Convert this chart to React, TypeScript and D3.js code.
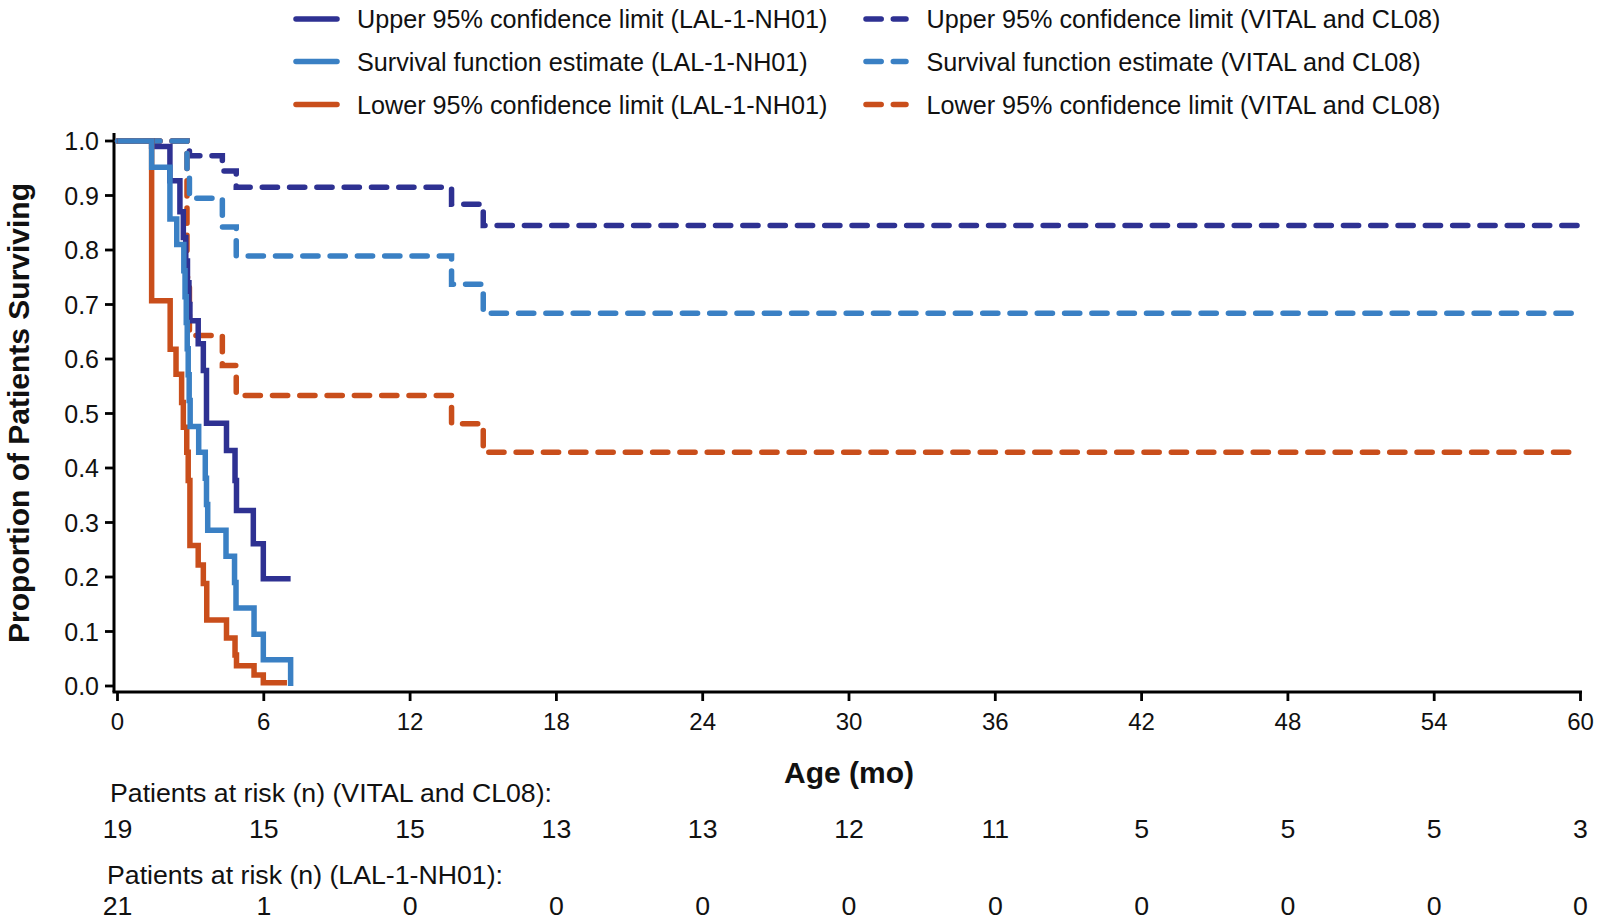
import React from 'react';
import * as d3 from 'd3';

// ---- data ----
const xTicks = [0, 6, 12, 18, 24, 30, 36, 42, 48, 54, 60];
const yTicks = [0, 0.1, 0.2, 0.3, 0.4, 0.5, 0.6, 0.7, 0.8, 0.9, 1.0];
const riskVital = [19, 15, 15, 13, 13, 12, 11, 5, 5, 5, 3];
const riskLal = [21, 1, 0, 0, 0, 0, 0, 0, 0, 0, 0];

// LAL-1-NH01 (solid)
const lalUpperTimes = [0, 1.4, 2.15, 2.56, 2.7, 2.8, 2.87, 2.93, 2.97, 3.31, 3.52, 3.65, 4.47, 4.82, 4.88, 5.57, 5.98, 7.1];
const lalUpperValues = [1.0, 0.99, 0.927, 0.87, 0.823, 0.78, 0.74, 0.70, 0.67, 0.628, 0.579, 0.482, 0.432, 0.377, 0.322, 0.261, 0.197, 0.197];
const lalSurvTimes = [0, 1.4, 2.15, 2.43, 2.72, 2.77, 2.82, 2.86, 2.9, 2.94, 2.98, 3.33, 3.6, 3.65, 3.7, 4.45, 4.8, 4.86, 5.6, 5.98, 7.1];
const lalSurvValues = [1.0, 0.952, 0.857, 0.81, 0.762, 0.714, 0.667, 0.619, 0.571, 0.524, 0.476, 0.429, 0.381, 0.333, 0.286, 0.238, 0.19, 0.143, 0.095, 0.048, 0];
const lalLowerTimes = [0, 1.4, 2.16, 2.4, 2.63, 2.7, 2.84, 2.9, 2.97, 3.31, 3.52, 3.66, 4.47, 4.82, 4.88, 5.6, 5.98, 6.95];
const lalLowerValues = [1.0, 0.707, 0.618, 0.572, 0.52, 0.475, 0.429, 0.377, 0.258, 0.222, 0.188, 0.121, 0.088, 0.057, 0.037, 0.02, 0.006, 0.006];

// VITAL and CL08 (dashed)
const vitUpperTimes = [0, 2.85, 2.95, 4.3, 4.87, 13.7, 15.0, 60];
const vitUpperValues = [1.0, 0.993, 0.973, 0.945, 0.915, 0.884, 0.845, 0.845];
const vitSurvTimes = [0, 2.85, 2.95, 4.3, 4.87, 13.7, 15.0, 60];
const vitSurvValues = [1.0, 0.947, 0.895, 0.842, 0.789, 0.737, 0.684, 0.684];
const vitLowerTimes = [0, 2.85, 2.95, 4.3, 4.87, 13.7, 15.0, 60];
const vitLowerValues = [1.0, 0.75, 0.643, 0.588, 0.533, 0.481, 0.429, 0.429];

const legendLeft = [
  'Upper 95% confidence limit (LAL-1-NH01)',
  'Survival function estimate (LAL-1-NH01)',
  'Lower 95% confidence limit (LAL-1-NH01)',
];
const legendRight = [
  'Upper 95% confidence limit (VITAL and CL08)',
  'Survival function estimate (VITAL and CL08)',
  'Lower 95% confidence limit (VITAL and CL08)',
];

const NAVY = '#2E3192';
const BLUE = '#3A80C4';
const ORANGE = '#C94E1B';
const FONT = '"Liberation Sans", Arial, Helvetica, sans-serif';

const zip = (t: number[], v: number[]) => t.map((x, i) => [x, v[i]] as [number, number]);

export default function App() {
  const x = d3.scaleLinear().domain([0, 60]).range([117.5, 1580.5]);
  const y = d3.scaleLinear().domain([0, 1]).range([686, 141]);
  const line = d3
    .line<[number, number]>()
    .x((d) => x(d[0]))
    .y((d) => y(d[1]))
    .curve(d3.curveStepAfter);

  const axisY = 692;
  const axisX = 114;
  const sw = 5.5;
  const dash = '15.2 12.1';

  const dashed = [
    { d: zip(vitUpperTimes, vitUpperValues), c: NAVY },
    { d: zip(vitLowerTimes, vitLowerValues), c: ORANGE },
    { d: zip(vitSurvTimes, vitSurvValues), c: BLUE },
  ];
  const solid = [
    { d: zip(lalUpperTimes, lalUpperValues), c: NAVY },
    { d: zip(lalLowerTimes, lalLowerValues), c: ORANGE },
    { d: zip(lalSurvTimes, lalSurvValues), c: BLUE },
  ];
  const legendColors = [NAVY, BLUE, ORANGE];
  const legendRows = [19, 61.5, 104.5];

  return (
    <svg
      width={1600}
      height={920}
      style={{ position: 'absolute', left: 0, top: 0, background: '#fff' }}
      fontFamily={FONT}
    >
      {/* legend */}
      {legendLeft.map((t, i) => (
        <g key={'ll' + i}>
          <line x1={296} x2={337} y1={legendRows[i]} y2={legendRows[i]} stroke={legendColors[i]} strokeWidth={sw} strokeLinecap="round" />
          <text x={357} y={legendRows[i]} dominantBaseline="central" fontSize={25.2} fill="#111">{t}</text>
        </g>
      ))}
      {legendRight.map((t, i) => (
        <g key={'lr' + i}>
          <line x1={866} x2={906} y1={legendRows[i]} y2={legendRows[i]} stroke={legendColors[i]} strokeWidth={sw} strokeLinecap="round" strokeDasharray={dash} />
          <text x={926.5} y={legendRows[i]} dominantBaseline="central" fontSize={25.2} fill="#111">{t}</text>
        </g>
      ))}

      {/* axes */}
      <line x1={axisX} x2={axisX} y1={133} y2={axisY} stroke="#000" strokeWidth={3} />
      <line x1={axisX - 1.5} x2={x(60) + 1.5} y1={axisY} y2={axisY} stroke="#000" strokeWidth={3} />
      {yTicks.map((v) => (
        <g key={'yt' + v}>
          <line x1={105} x2={axisX} y1={y(v)} y2={y(v)} stroke="#000" strokeWidth={2.8} />
          <text x={99} y={y(v)} textAnchor="end" dominantBaseline="central" fontSize={25} fill="#111">
            {v.toFixed(1)}
          </text>
        </g>
      ))}
      {xTicks.map((v) => (
        <g key={'xt' + v}>
          <line x1={x(v)} x2={x(v)} y1={axisY} y2={axisY + 9} stroke="#000" strokeWidth={2.8} />
          <text x={x(v)} y={721} textAnchor="middle" dominantBaseline="central" fontSize={24} fill="#111">
            {v}
          </text>
        </g>
      ))}
      <text x={849} y={772} textAnchor="middle" dominantBaseline="central" fontSize={30} fontWeight="bold" fill="#111">
        Age (mo)
      </text>
      <text
        transform="translate(18.5,413) rotate(-90)"
        textAnchor="middle"
        dominantBaseline="central"
        fontSize={30}
        fontWeight="bold"
        fill="#111"
      >
        Proportion of Patients Surviving
      </text>

      {/* curves */}
      {dashed.map((s, i) => (
        <path key={'ds' + i} d={line(s.d) || ''} fill="none" stroke={s.c} strokeWidth={sw} strokeDasharray={dash} strokeLinecap="round" strokeLinejoin="miter" />
      ))}
      {solid.map((s, i) => (
        <path key={'so' + i} d={line(s.d) || ''} fill="none" stroke={s.c} strokeWidth={sw} strokeLinecap="butt" strokeLinejoin="miter" />
      ))}

      {/* at risk table */}
      <text x={110} y={793} dominantBaseline="central" fontSize={26.7} fill="#111">
        Patients at risk (n) (VITAL and CL08):
      </text>
      {riskVital.map((n, i) => (
        <text key={'rv' + i} x={x(xTicks[i])} y={828.5} textAnchor="middle" dominantBaseline="central" fontSize={26.7} fill="#111">
          {n}
        </text>
      ))}
      <text x={107} y={874.5} dominantBaseline="central" fontSize={26.7} fill="#111">
        Patients at risk (n) (LAL-1-NH01):
      </text>
      {riskLal.map((n, i) => (
        <text key={'rl' + i} x={x(xTicks[i])} y={906} textAnchor="middle" dominantBaseline="central" fontSize={26.7} fill="#111">
          {n}
        </text>
      ))}
    </svg>
  );
}
